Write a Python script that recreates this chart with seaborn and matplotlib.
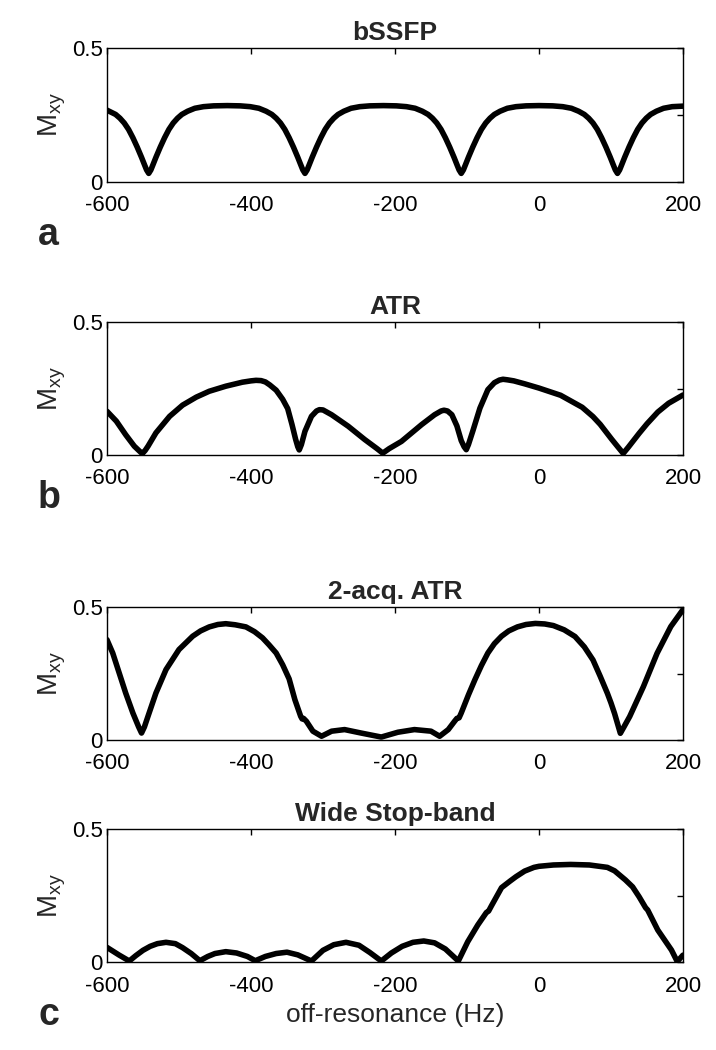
import matplotlib
matplotlib.use("Agg")
import matplotlib.pyplot as plt
import seaborn as sns

# off-resonance profiles (Hz, Mxy)
freq_bssfp = [-600, -588, -582, -576, -570, -564, -558, -552, -548, -545, -542, -539, -536, -532, -526, -520,
              -514, -508, -502, -496, -488, -478, -466, -452, -433,
              -415, -401, -389, -379, -371, -365, -359, -353, -347, -341, -335, -331, -328, -325, -322, -319,
              -315, -309, -303, -297, -291, -285, -279, -271, -261, -249, -235, -216,
              -198, -184, -172, -162, -154, -148, -142, -136, -130, -124, -118, -114, -111, -108, -105, -102,
              -98, -92, -86, -80, -74, -68, -62, -54, -44, -32, -18, 0,
              19, 33, 45, 55, 63, 69, 75, 81, 87, 93, 99, 103, 106, 109, 112, 115,
              119, 125, 131, 137, 143, 149, 155, 163, 173, 185, 200]
mxy_bssfp = [0.268, 0.252, 0.238, 0.220, 0.196, 0.165, 0.130, 0.092, 0.065, 0.045, 0.032, 0.045, 0.065, 0.092, 0.130, 0.165,
             0.196, 0.220, 0.238, 0.252, 0.264, 0.275, 0.281, 0.284, 0.285,
             0.284, 0.281, 0.275, 0.264, 0.252, 0.238, 0.220, 0.196, 0.165, 0.130, 0.092, 0.065, 0.045, 0.032, 0.045, 0.065,
             0.092, 0.130, 0.165, 0.196, 0.220, 0.238, 0.252, 0.264, 0.275, 0.281, 0.284, 0.285,
             0.284, 0.281, 0.275, 0.264, 0.252, 0.238, 0.220, 0.196, 0.165, 0.130, 0.092, 0.065, 0.045, 0.032, 0.045, 0.065,
             0.092, 0.130, 0.165, 0.196, 0.220, 0.238, 0.252, 0.264, 0.275, 0.281, 0.284, 0.285,
             0.284, 0.281, 0.275, 0.264, 0.252, 0.238, 0.220, 0.196, 0.165, 0.130, 0.092, 0.065, 0.045, 0.032, 0.045, 0.065,
             0.092, 0.130, 0.165, 0.196, 0.220, 0.238, 0.252, 0.264, 0.275, 0.281, 0.283]

freq_atr = [-600, -587, -574, -562, -555, -551, -547, -543, -532, -513, -495, -476, -458, -435, -412, -400,
            -393, -386, -380, -374, -365, -356, -349, -343, -338, -335, -333, -330, -325, -316, -309, -305,
            -300, -288, -265, -242, -225, -217, -208, -191, -163, -145, -136, -132, -127, -121, -114, -108,
            -104, -101, -98, -92, -82, -71, -62, -55, -50, -44, -35, -20, 0, 30, 60, 75, 85, 101, 110, 117,
            124, 139, 150, 165, 180, 200]
mxy_atr = [0.165, 0.128, 0.077, 0.034, 0.016, 0.006, 0.018, 0.034, 0.084, 0.146, 0.188, 0.218, 0.240, 0.259, 0.274, 0.279,
           0.281, 0.280, 0.275, 0.264, 0.244, 0.210, 0.175, 0.115, 0.060, 0.032, 0.020, 0.040, 0.090, 0.146, 0.166, 0.171,
           0.170, 0.152, 0.109, 0.059, 0.025, 0.008, 0.025, 0.052, 0.115, 0.152, 0.166, 0.169, 0.166, 0.152, 0.110, 0.055,
           0.032, 0.021, 0.040, 0.090, 0.177, 0.246, 0.272, 0.282, 0.285, 0.283, 0.279, 0.268, 0.252, 0.225, 0.180, 0.145,
           0.116, 0.060, 0.030, 0.007, 0.030, 0.082, 0.118, 0.162, 0.195, 0.226]

freq_2acq = [-600, -592, -583, -574, -564, -556, -552, -548, -543, -532, -518, -500, -481, -470, -458, -446,
             -435, -422, -407, -395, -384, -375, -365, -356, -347, -339, -331, -329, -327, -323, -314, -302,
             -288, -270, -247, -219, -196, -173, -150, -138, -126, -117, -114, -111, -108, -98, -89, -80,
             -71, -62, -52, -42, -30, -18, -5, 8, 20, 35, 50, 63, 75, 85, 95, 100, 105, 113,
             118, 126, 145, 164, 183, 200]
mxy_2acq = [0.377, 0.327, 0.252, 0.177, 0.102, 0.050, 0.027, 0.050, 0.090, 0.177, 0.265, 0.340, 0.390, 0.410, 0.425, 0.434,
            0.437, 0.433, 0.425, 0.407, 0.384, 0.358, 0.327, 0.283, 0.230, 0.152, 0.090, 0.080, 0.082, 0.071, 0.034, 0.015,
            0.034, 0.040, 0.027, 0.012, 0.030, 0.040, 0.034, 0.015, 0.040, 0.072, 0.082, 0.084, 0.102, 0.170, 0.227, 0.280,
            0.327, 0.362, 0.390, 0.410, 0.425, 0.434, 0.438, 0.436, 0.430, 0.414, 0.389, 0.350, 0.301, 0.240, 0.176, 0.140, 0.100, 0.026,
            0.050, 0.089, 0.201, 0.326, 0.426, 0.490]

freq_wide = [-600, -583, -569, -560, -550, -540, -530, -518, -505, -495, -483, -471,
             -460, -450, -435, -420, -405, -394, -380, -365, -350, -335, -316,
             -300, -285, -268, -250, -235, -219, -205, -190, -175, -160, -145, -130, -112,
             -99, -85, -73, -70, -66, -52, -40, -32, -20, -7, 0, 20, 44, 70, 95, 105, 120, 130, 139, 148, 151,
             165, 184, 192, 200]
mxy_wide = [0.056, 0.027, 0.005, 0.025, 0.045, 0.060, 0.070, 0.075, 0.070, 0.055, 0.033, 0.006,
            0.022, 0.033, 0.040, 0.035, 0.022, 0.006, 0.022, 0.033, 0.038, 0.028, 0.005,
            0.045, 0.066, 0.075, 0.064, 0.037, 0.005, 0.035, 0.060, 0.075, 0.080, 0.073, 0.050, 0.005,
            0.077, 0.140, 0.187, 0.192, 0.212, 0.280, 0.305, 0.321, 0.342, 0.356, 0.360, 0.365, 0.367, 0.365, 0.356, 0.343,
            0.309, 0.283, 0.246, 0.205, 0.196, 0.121, 0.046, 0.003, 0.027]

panel_titles = ["bSSFP", "ATR", "2-acq. ATR", "Wide Stop-band"]
x_ticks = [-600, -400, -200, 0, 200]
y_ticks = [0, 0.25, 0.5]
y_tick_labels = ["0", "", "0.5"]

sns.set_style("white")
plt.rcParams["font.family"] = ["Liberation Sans", "DejaVu Sans"]
plt.rcParams["mathtext.default"] = "regular"

fig = plt.figure(figsize=(7.16, 10.5), dpi=100)

# axes boxes in figure fractions
boxes = [[0.1494, 0.8267, 0.8045, 0.1276],
         [0.1494, 0.5664, 0.8045, 0.1270],
         [0.1494, 0.2950, 0.8045, 0.1270],
         [0.1494, 0.0835, 0.8045, 0.1270]]
series = [(freq_bssfp, mxy_bssfp), (freq_atr, mxy_atr), (freq_2acq, mxy_2acq), (freq_wide, mxy_wide)]

for i, (box, (fx, my), title) in enumerate(zip(boxes, series, panel_titles)):
    ax = fig.add_axes(box)
    sns.lineplot(x=fx, y=my, ax=ax, color="black", linewidth=4.0, estimator=None, sort=False)
    ax.lines[0].set_solid_capstyle("round")
    ax.lines[0].set_solid_joinstyle("round")
    ax.set_xlim(-600, 200)
    ax.set_ylim(0, 0.5)
    ax.set_xticks(x_ticks)
    ax.set_xticklabels([str(t) for t in x_ticks])
    ax.set_yticks(y_ticks)
    ax.set_yticklabels(y_tick_labels)
    ax.tick_params(direction="in", length=4, width=1, top=True, right=True, labelsize=16, colors="black")
    ax.tick_params(axis="x", pad=9.5)
    ax.tick_params(axis="y", pad=3)
    for sp in ax.spines.values():
        sp.set_visible(True)
        sp.set_color("black")
        sp.set_linewidth(1)
    ax.set_title(title, fontsize=19, fontweight="bold", pad=6)
    ax.set_ylabel("M$_{xy}$", fontsize=20)
    ax.yaxis.set_label_coords(-0.068, 0.5)
    if i == 3:
        ax.set_xlabel("off-resonance (Hz)", fontsize=19, labelpad=5)

fig.text(38 / 716, 1 - 245 / 1050, "a", fontsize=27, fontweight="bold", va="baseline")
fig.text(38 / 716, 1 - 508 / 1050, "b", fontsize=27, fontweight="bold", va="baseline")
fig.text(38 / 716, 1 - 1025 / 1050, "c", fontsize=27, fontweight="bold", va="baseline")

fig.savefig("out.png", dpi=100)
